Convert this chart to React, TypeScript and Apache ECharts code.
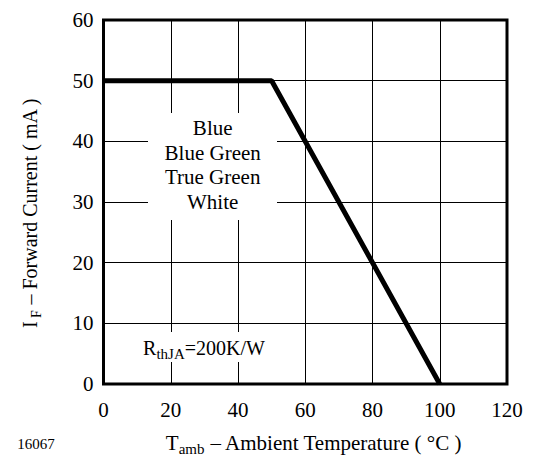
import React, { useEffect, useRef } from "react";
import * as echarts from "echarts";

const temperatures = [0, 50, 100];
const currents = [50, 50, 0];
const ledTypes = ["Blue", "Blue Green", "True Green", "White"];
const xMin = 0, xMax = 120, xStep = 20;
const yMin = 0, yMax = 60, yStep = 10;

const FONT = "Liberation Serif";

export default function App() {
  const ref = useRef<HTMLDivElement>(null);
  useEffect(() => {
    if (!ref.current) return;
    const chart = echarts.init(ref.current, null, { renderer: "svg" });
    const data = temperatures.map((t, i) => [t, currents[i]]);
    const main = { fontFamily: FONT, fontSize: 20, lineHeight: 26, verticalAlign: "middle", fill: "#000" };
    const sub = { fontFamily: FONT, fontSize: 15, lineHeight: 15, verticalAlign: "bottom", fill: "#000" };
    chart.setOption({
      animation: false,
      backgroundColor: "#ffffff",
      textStyle: { fontFamily: FONT },
      grid: {
        left: 103.5,
        right: 26,
        top: 20,
        bottom: 73,
        show: true,
        borderColor: "#000",
        borderWidth: 3,
        backgroundColor: "transparent",
      },
      xAxis: {
        type: "value",
        min: xMin,
        max: xMax,
        interval: xStep,
        axisLine: { show: false },
        axisTick: { show: false },
        axisLabel: { color: "#000", fontFamily: FONT, fontSize: 21, margin: 15 },
        splitLine: { show: true, lineStyle: { color: "#000", width: 1 } },
      },
      yAxis: {
        type: "value",
        min: yMin,
        max: yMax,
        interval: yStep,
        axisLine: { show: false },
        axisTick: { show: false },
        axisLabel: { color: "#000", fontFamily: FONT, fontSize: 21, margin: 10 },
        splitLine: { show: true, lineStyle: { color: "#000", width: 1 } },
      },
      series: [
        {
          type: "line",
          data,
          symbol: "none",
          z: 5,
          lineStyle: { color: "#000", width: 5 },
        },
      ],
      graphic: [
        {
          type: "rect",
          z: 1,
          shape: { x: 148, y: 113, width: 129, height: 107 },
          style: { fill: "#fff" },
        },
        {
          type: "text",
          z: 2,
          x: 212.7,
          y: 165,
          style: {
            text: ledTypes.join("\n"),
            align: "center",
            verticalAlign: "middle",
            fontFamily: FONT,
            fontSize: 21,
            lineHeight: 24.7,
            fill: "#000",
          },
        },
        {
          type: "rect",
          z: 1,
          shape: { x: 138, y: 332, width: 132, height: 30 },
          style: { fill: "#fff" },
        },
        {
          type: "text",
          z: 2,
          x: 204,
          y: 348,
          style: {
            text: "{a|R}{b|thJA}{a|=200K/W}",
            align: "center",
            verticalAlign: "middle",
            fill: "#000",
            rich: { a: main, b: sub },
          },
        },
        {
          type: "text",
          z: 2,
          x: 30,
          y: 213,
          rotation: Math.PI / 2,
          style: {
            text: "{a|I}{b| F}{a| – Forward Current ( mA )}",
            align: "center",
            verticalAlign: "middle",
            fill: "#000",
            rich: { a: main, b: { ...sub, fontSize: 14, lineHeight: 14 } },
          },
        },
        {
          type: "text",
          z: 2,
          x: 314,
          y: 443,
          style: {
            text: "{a|T}{b|amb}{a| – Ambient Temperature ( °C )}",
            align: "center",
            verticalAlign: "middle",
            fill: "#000",
            rich: { a: { ...main, fontSize: 21 }, b: sub },
          },
        },
        {
          type: "text",
          z: 2,
          x: 36,
          y: 444,
          style: {
            text: "16067",
            align: "center",
            verticalAlign: "middle",
            fontFamily: FONT,
            fontSize: 15,
            fill: "#000",
          },
        },
      ],
    });
    return () => chart.dispose();
  }, []);
  return (
    <div
      ref={ref}
      style={{ position: "fixed", left: 0, top: 0, width: 533, height: 457, background: "#fff" }}
    />
  );
}
